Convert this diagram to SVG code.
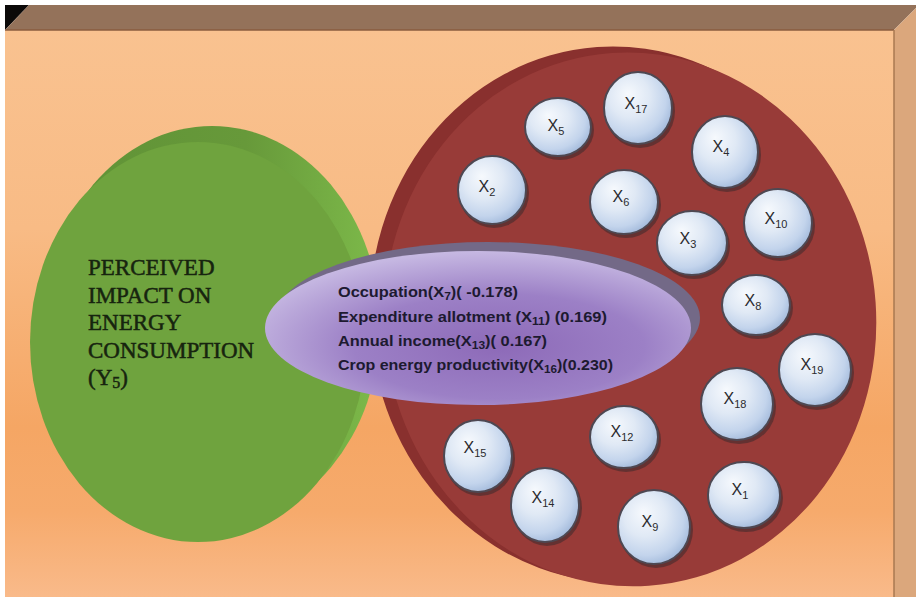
<svg xmlns="http://www.w3.org/2000/svg" width="916" height="601" viewBox="0 0 916 601">
  <defs>
    <linearGradient id="wall" x1="0" y1="0" x2="0" y2="1">
      <stop offset="0" stop-color="#f9c290"/>
      <stop offset="0.35" stop-color="#f8bb85"/>
      <stop offset="0.7" stop-color="#f5a664"/>
      <stop offset="0.85" stop-color="#f6aa6c"/>
      <stop offset="1" stop-color="#f9ba8a"/>
    </linearGradient>
    <linearGradient id="greenRim" x1="0" y1="0" x2="1" y2="0">
      <stop offset="0" stop-color="#5f9236"/>
      <stop offset="0.6" stop-color="#67993a"/>
      <stop offset="1" stop-color="#7dba4a"/>
    </linearGradient>
    <radialGradient id="lilac" cx="0.55" cy="0.62" r="0.62">
      <stop offset="0" stop-color="#8d6ab8"/>
      <stop offset="0.55" stop-color="#9c80c6"/>
      <stop offset="1" stop-color="#c6b8e2"/>
    </radialGradient>
    <radialGradient id="pearl" cx="0.4" cy="0.38" r="0.65" fx="0.35" fy="0.3">
      <stop offset="0" stop-color="#f6f9fd"/>
      <stop offset="0.45" stop-color="#e0e9f5"/>
      <stop offset="0.8" stop-color="#c3d4ec"/>
      <stop offset="1" stop-color="#a4bbdc"/>
    </radialGradient>
    <style>
      .bubble { fill: url(#pearl); stroke: #4e4852; stroke-width: 2; }
      .shade { fill: #3b2a2c; opacity: 0.55; }
      .lbl { font-family: "Liberation Sans", Arial, sans-serif; font-size: 16px; fill: #2b2b2e; text-anchor: middle; }
      .sub { font-size: 11px; }
      .item { font-family: "Liberation Sans", Arial, sans-serif; font-weight: bold; font-size: 15px; fill: #1d1a30; }
      .isub { font-size: 11px; }
      .title { font-family: "Liberation Serif", "Times New Roman", serif; font-size: 23px; fill: #17240f; stroke: #17240f; stroke-width: 0.5; }
    </style>
  </defs>

  <!-- frame: back wall, top ledge and right side -->
  <rect x="0" y="0" width="916" height="601" fill="#ffffff"/>
  <rect x="5" y="30" width="889" height="567" fill="url(#wall)"/>
  <polygon points="5,5 29,5 5,30" fill="#0b0908"/>
  <polygon points="5,30 29,5 916,5 916,8 894,30" fill="#94725a"/>
  <line x1="5" y1="30" x2="894" y2="30" stroke="#8a5d3f" stroke-width="1.5"/>
  <polygon points="894,30 916,8 916,597 894,597" fill="#dba77c"/>
  <line x1="894" y1="30" x2="894" y2="597" stroke="#a87850" stroke-width="1.5"/>

  <!-- dependent variable disc -->
  <g id="y5">
    <ellipse cx="212" cy="326" rx="168" ry="200" fill="url(#greenRim)"/>
    <ellipse cx="198" cy="342" rx="168" ry="200" fill="#6fa33e"/>
    <text class="title" x="88" y="275">PERCEIVED</text>
    <text class="title" x="88" y="303">IMPACT ON</text>
    <text class="title" x="88" y="330">ENERGY</text>
    <text class="title" x="88" y="358">CONSUMPTION</text>
    <text class="title" x="88" y="385">(Y<tspan font-size="16" dy="3">5</tspan><tspan dy="-3">)</tspan></text>
  </g>

  <!-- independent variables disc -->
  <g id="x-pool" transform="rotate(-4 622 317)">
    <ellipse cx="616" cy="314" rx="246" ry="268" fill="#89302e"/>
    <ellipse cx="630" cy="320" rx="246" ry="267" fill="#983b38"/>
  </g>

  <g id="connectors"/>

  <!-- significant predictors -->
  <g id="predictors">
    <ellipse cx="488" cy="318" rx="212" ry="76" fill="#736987"/>
    <ellipse cx="478" cy="328" rx="213" ry="77" fill="url(#lilac)"/>
    <text class="item" x="338" y="297" textLength="180" lengthAdjust="spacingAndGlyphs">Occupation(X<tspan class="isub" dy="3">7</tspan><tspan dy="-3">)( -0.178)</tspan></text>
    <text class="item" x="338" y="322" textLength="269" lengthAdjust="spacingAndGlyphs">Expenditure allotment (X<tspan class="isub" dy="3">11</tspan><tspan dy="-3">) (0.169)</tspan></text>
    <text class="item" x="338" y="346" textLength="209" lengthAdjust="spacingAndGlyphs">Annual income(X<tspan class="isub" dy="3">13</tspan><tspan dy="-3">)( 0.167)</tspan></text>
    <text class="item" x="338" y="370" textLength="275" lengthAdjust="spacingAndGlyphs">Crop energy productivity(X<tspan class="isub" dy="3">16</tspan><tspan dy="-3">)(0.230)</tspan></text>
  </g>

  <!-- variable bubbles -->
  <g id="x5"><ellipse class="shade" cx="560" cy="130" rx="34" ry="30"/><ellipse class="bubble" cx="558" cy="127" rx="33" ry="29"/><text class="lbl" x="556" y="131">X<tspan class="sub" dy="4">5</tspan></text></g>
  <g id="x17"><ellipse class="shade" cx="640" cy="111" rx="35" ry="37"/><ellipse class="bubble" cx="638" cy="108" rx="34" ry="36"/><text class="lbl" x="636" y="109">X<tspan class="sub" dy="4">17</tspan></text></g>
  <g id="x4"><ellipse class="shade" cx="727" cy="155" rx="34" ry="37"/><ellipse class="bubble" cx="725" cy="152" rx="33" ry="36"/><text class="lbl" x="721" y="152">X<tspan class="sub" dy="4">4</tspan></text></g>
  <g id="x2"><ellipse class="shade" cx="494" cy="193" rx="35" ry="35"/><ellipse class="bubble" cx="492" cy="190" rx="34" ry="34"/><text class="lbl" x="487" y="192">X<tspan class="sub" dy="4">2</tspan></text></g>
  <g id="x6"><ellipse class="shade" cx="626" cy="205" rx="35" ry="33"/><ellipse class="bubble" cx="624" cy="202" rx="34" ry="32"/><text class="lbl" x="621" y="202">X<tspan class="sub" dy="4">6</tspan></text></g>
  <g id="x10"><ellipse class="shade" cx="780" cy="226" rx="35" ry="35"/><ellipse class="bubble" cx="778" cy="223" rx="34" ry="34"/><text class="lbl" x="776" y="224">X<tspan class="sub" dy="4">10</tspan></text></g>
  <g id="x3"><ellipse class="shade" cx="694" cy="246" rx="36" ry="33"/><ellipse class="bubble" cx="692" cy="243" rx="35" ry="32"/><text class="lbl" x="688" y="244">X<tspan class="sub" dy="4">3</tspan></text></g>
  <g id="x8"><ellipse class="shade" cx="758" cy="308" rx="35" ry="31"/><ellipse class="bubble" cx="756" cy="305" rx="34" ry="30"/><text class="lbl" x="753" y="306">X<tspan class="sub" dy="4">8</tspan></text></g>
  <g id="x19"><ellipse class="shade" cx="817" cy="373" rx="37" ry="37"/><ellipse class="bubble" cx="815" cy="370" rx="36" ry="36"/><text class="lbl" x="812" y="370">X<tspan class="sub" dy="4">19</tspan></text></g>
  <g id="x18"><ellipse class="shade" cx="739" cy="407" rx="37" ry="37"/><ellipse class="bubble" cx="737" cy="404" rx="36" ry="36"/><text class="lbl" x="735" y="404">X<tspan class="sub" dy="4">18</tspan></text></g>
  <g id="x12"><ellipse class="shade" cx="626" cy="440" rx="35" ry="32"/><ellipse class="bubble" cx="624" cy="437" rx="34" ry="31"/><text class="lbl" x="622" y="437">X<tspan class="sub" dy="4">12</tspan></text></g>
  <g id="x15"><ellipse class="shade" cx="480" cy="459" rx="35" ry="37"/><ellipse class="bubble" cx="478" cy="456" rx="34" ry="36"/><text class="lbl" x="475" y="453">X<tspan class="sub" dy="4">15</tspan></text></g>
  <g id="x14"><ellipse class="shade" cx="547" cy="508" rx="35" ry="38"/><ellipse class="bubble" cx="545" cy="505" rx="34" ry="37"/><text class="lbl" x="543" y="503">X<tspan class="sub" dy="4">14</tspan></text></g>
  <g id="x9"><ellipse class="shade" cx="656" cy="530" rx="37" ry="38"/><ellipse class="bubble" cx="654" cy="527" rx="36" ry="37"/><text class="lbl" x="650" y="527">X<tspan class="sub" dy="4">9</tspan></text></g>
  <g id="x1"><ellipse class="shade" cx="746" cy="498" rx="37" ry="34"/><ellipse class="bubble" cx="744" cy="495" rx="36" ry="33"/><text class="lbl" x="740" y="495">X<tspan class="sub" dy="4">1</tspan></text></g>
</svg>
